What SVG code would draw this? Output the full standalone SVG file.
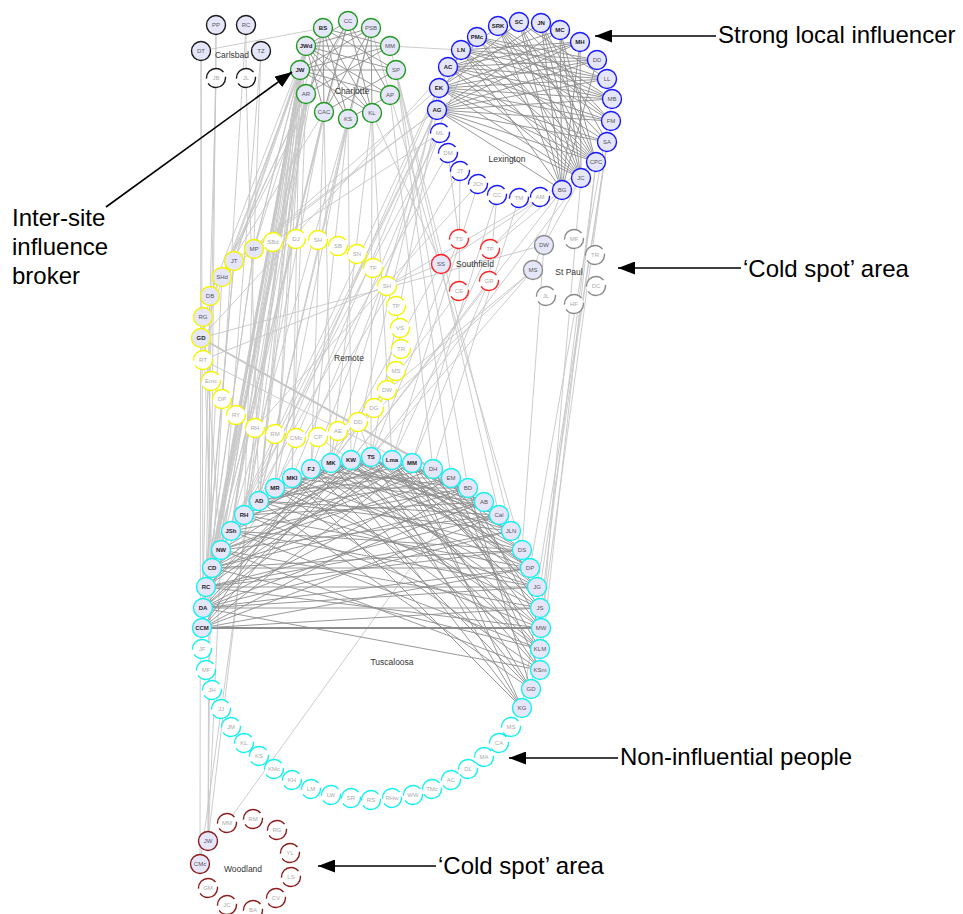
<svg xmlns="http://www.w3.org/2000/svg" width="963" height="914" viewBox="0 0 963 914">
<style>
circle{stroke-width:1.4}
.f{fill:#e6e6fa}
.d{fill:#fff;stroke-dasharray:24 5}
text{font-family:"Liberation Sans",Arial,sans-serif}
.b{font-size:6px;font-weight:bold;fill:#222;text-anchor:middle}
.m{font-size:6px;fill:#555;text-anchor:middle}
.g{font-size:6px;fill:#aaa;text-anchor:middle}
.site{font-size:8.5px;fill:#333;text-anchor:middle}
.ann{font-size:24px;fill:#000}
.cb circle{stroke:#1a1a1a}
.ch circle{stroke:#1f9a1f}
.lx circle{stroke:#1818ff}
.sf circle{stroke:#ff2020}
.sp circle{stroke:#8a8a8a}
.re circle{stroke:#f4f400}
.tu circle{stroke:#14f0f0}
.wo circle{stroke:#8c1c1c}
#connectors path{fill:none}
.e1 path{stroke:#c6c6c6;stroke-width:0.9}
.e2 path{stroke:#8c8c8c;stroke-width:0.9}
.thick{stroke-width:1.8!important}
.arr{stroke:#000;stroke-width:1.6;fill:none}
</style>
<defs>
<marker id="ah" markerWidth="17" markerHeight="13" refX="17" refY="6.5" orient="auto" markerUnits="userSpaceOnUse"><path d="M0 0L17 6.5L0 13z" fill="#000"/></marker>
</defs>
<rect width="963" height="914" fill="#fff"/>
<g id="connectors">
<g class="e1">
<path d="M201 51L323 28"/><path d="M201 51L203 608"/><path d="M201 51L200 864"/><path d="M216 25L216 78"/><path d="M216 25L208 841"/><path d="M246 25L246 78"/><path d="M246 25L212 568"/><path d="M261 51L244 515"/><path d="M261 51L221 550"/><path d="M216 78L210 296"/><path d="M216 78L206 587"/><path d="M246 78L259 501"/>
<path d="M300 70L244 515"/><path d="M300 70L259 501"/><path d="M300 70L231 531"/><path d="M300 70L221 550"/><path d="M300 70L212 568"/><path d="M300 70L206 587"/><path d="M300 70L203 608"/><path d="M300 70L202 628"/><path d="M300 70L275 488"/><path d="M300 70L292 478"/><path d="M300 70L254 249"/><path d="M300 70L234 261"/><path d="M300 70L222 277"/><path d="M300 70L201 338"/><path d="M300 70L208 841"/>
<path d="M306 46L244 515"/><path d="M306 46L259 501"/><path d="M306 46L221 550"/><path d="M306 46L212 568"/><path d="M306 46L203 608"/><path d="M306 46L275 488"/><path d="M306 46L254 249"/><path d="M306 46L234 261"/><path d="M306 46L231 531"/><path d="M306 46L210 296"/>
<path d="M306 94L231 531"/><path d="M306 94L206 587"/><path d="M306 94L212 568"/><path d="M306 94L259 501"/><path d="M306 94L222 277"/><path d="M306 94L203 317"/><path d="M306 94L292 478"/><path d="M306 94L200 864"/>
<path d="M324 112L221 550"/><path d="M324 112L244 515"/><path d="M324 112L203 608"/><path d="M324 112L311 469"/><path d="M324 112L210 296"/><path d="M324 112L331 463"/>
<path d="M348 119L202 628"/><path d="M348 119L259 501"/><path d="M348 119L275 488"/><path d="M348 119L351 460"/><path d="M348 119L311 469"/>
<path d="M323 28L206 587"/><path d="M323 28L231 531"/><path d="M323 28L254 249"/><path d="M323 28L212 568"/>
<path d="M372 113L371 457"/><path d="M372 113L331 463"/><path d="M372 113L441 264"/><path d="M372 113L392 460"/>
<path d="M390 95L433 469"/><path d="M371 28L259 501"/><path d="M371 28L522 550"/><path d="M390 46L499 515"/><path d="M390 46L461 50"/>
<path d="M396 70L451 478"/><path d="M396 70L511 531"/><path d="M396 70L468 488"/><path d="M348 21L212 568"/><path d="M348 21L222 277"/>
<path d="M437 110L371 457"/><path d="M437 110L254 249"/><path d="M437 110L231 531"/><path d="M437 110L244 515"/><path d="M437 110L234 261"/>
<path d="M439 88L351 460"/><path d="M439 88L259 501"/><path d="M439 88L222 277"/><path d="M448 67L331 463"/><path d="M448 67L221 550"/>
<path d="M461 50L275 488"/><path d="M477 37L292 478"/><path d="M477 37L201 338"/>
<path d="M440 133L212 568"/><path d="M440 133L273 242"/><path d="M440 133L311 469"/><path d="M448 153L459 239"/><path d="M448 153L206 587"/>
<path d="M460 171L459 291"/><path d="M460 171L203 608"/><path d="M478 184L392 460"/><path d="M478 184L255 428"/><path d="M497 195L489 281"/><path d="M497 195L412 463"/>
<path d="M519 198L433 469"/><path d="M540 197L490 249"/><path d="M540 197L387 286"/><path d="M562 190L490 249"/><path d="M562 190L533 270"/><path d="M562 190L351 460"/>
<path d="M581 178L540 649"/><path d="M581 178L544 245"/><path d="M581 178L371 457"/><path d="M596 162L540 670"/><path d="M596 162L531 689"/><path d="M596 162L441 264"/>
<path d="M607 142L522 708"/><path d="M607 142L541 628"/><path d="M611 121L537 587"/><path d="M612 99L530 568"/>
<path d="M441 264L203 360"/><path d="M441 264L331 463"/><path d="M459 239L371 457"/><path d="M490 249L392 460"/><path d="M489 281L412 463"/><path d="M489 281L351 460"/><path d="M459 291L331 463"/>
<path d="M544 245L201 338"/><path d="M544 245L522 550"/><path d="M533 270L371 457"/><path d="M533 270L311 469"/>
<path class="thick" d="M201 338L433 469"/><path d="M201 338L451 478"/><path d="M201 338L468 488"/><path d="M203 360L484 502"/><path d="M203 317L212 568"/><path d="M203 317L221 550"/>
<path d="M254 249L203 608"/><path d="M254 249L206 587"/><path d="M234 261L202 628"/><path d="M234 261L203 608"/><path d="M222 277L206 587"/><path d="M210 296L202 628"/><path d="M210 296L208 841"/>
<path d="M358 422L371 457"/><path d="M374 408L331 463"/><path d="M318 437L351 460"/><path d="M338 431L533 270"/>
<path d="M208 841L221 550"/><path d="M227 823L468 488"/>
</g>
<g class="e2">
<path d="M437 110L580 42"/><path d="M437 110L560 30"/><path d="M437 110L597 60"/><path d="M437 110L607 79"/><path d="M437 110L612 99"/><path d="M437 110L611 121"/><path d="M437 110L596 162"/><path d="M437 110L581 178"/><path d="M437 110L562 190"/><path d="M437 110L607 142"/>
<path d="M439 88L580 42"/><path d="M439 88L597 60"/><path d="M439 88L607 79"/><path d="M439 88L612 99"/><path d="M439 88L611 121"/><path d="M439 88L607 142"/><path d="M439 88L596 162"/><path d="M439 88L581 178"/><path d="M439 88L519 22"/><path d="M439 88L541 23"/>
<path d="M448 67L580 42"/><path d="M448 67L560 30"/><path d="M448 67L597 60"/><path d="M448 67L607 79"/><path d="M448 67L612 99"/><path d="M448 67L611 121"/><path d="M448 67L596 162"/><path d="M448 67L581 178"/><path d="M448 67L498 26"/>
<path d="M461 50L580 42"/><path d="M461 50L597 60"/><path d="M461 50L607 79"/><path d="M461 50L612 99"/><path d="M461 50L596 162"/><path d="M461 50L581 178"/><path d="M461 50L562 190"/><path d="M461 50L607 142"/>
<path d="M477 37L607 79"/><path d="M477 37L612 99"/><path d="M477 37L611 121"/><path d="M477 37L581 178"/><path d="M477 37L596 162"/><path d="M477 37L597 60"/>
<path d="M498 26L612 99"/><path d="M498 26L611 121"/><path d="M498 26L596 162"/><path d="M498 26L562 190"/><path d="M498 26L581 178"/><path d="M498 26L607 142"/>
<path d="M519 22L596 162"/><path d="M519 22L581 178"/><path d="M519 22L562 190"/><path d="M519 22L611 121"/><path d="M519 22L607 79"/>
<path d="M541 23L562 190"/><path d="M541 23L581 178"/><path d="M541 23L607 142"/><path d="M541 23L596 162"/><path d="M560 30L562 190"/><path d="M560 30L581 178"/><path d="M560 30L596 162"/><path d="M580 42L562 190"/><path d="M580 42L581 178"/><path d="M597 60L562 190"/>
<path d="M323 28L390 46"/><path d="M323 28L396 70"/><path d="M323 28L372 113"/><path d="M323 28L324 112"/><path d="M323 28L348 119"/>
<path d="M348 21L306 46"/><path d="M348 21L306 94"/><path d="M348 21L372 113"/><path d="M348 21L390 95"/><path d="M348 21L324 112"/>
<path d="M371 28L306 46"/><path d="M371 28L300 70"/><path d="M371 28L324 112"/><path d="M371 28L348 119"/>
<path d="M390 46L306 46"/><path d="M390 46L300 70"/><path d="M390 46L306 94"/><path d="M396 70L306 46"/><path d="M396 70L300 70"/><path d="M396 70L324 112"/>
<path d="M390 95L300 70"/><path d="M390 95L306 46"/><path d="M390 95L348 119"/><path d="M372 113L306 46"/><path d="M372 113L371 28"/><path d="M306 46L348 119"/><path d="M306 46L324 112"/><path d="M300 70L372 113"/>
<path d="M203 608L451 478"/><path d="M203 608L484 502"/><path d="M203 608L511 531"/><path d="M203 608L530 568"/><path d="M203 608L537 587"/><path d="M203 608L540 608"/><path d="M203 608L540 670"/><path d="M203 608L331 463"/><path d="M203 608L371 457"/><path d="M203 608L392 460"/>
<path class="thick" d="M202 628L541 628"/><path d="M202 628L540 608"/><path d="M202 628L530 568"/><path d="M202 628L499 515"/><path d="M202 628L468 488"/><path d="M202 628L351 460"/><path d="M202 628L412 463"/><path d="M202 628L311 469"/>
<path d="M206 587L499 515"/><path d="M206 587L511 531"/><path d="M206 587L522 550"/><path d="M206 587L537 587"/><path d="M206 587L541 628"/><path d="M206 587L331 463"/><path d="M206 587L351 460"/><path d="M206 587L392 460"/>
<path d="M212 568L484 502"/><path d="M212 568L522 550"/><path d="M212 568L530 568"/><path d="M212 568L540 649"/><path d="M212 568L371 457"/><path d="M212 568L412 463"/><path d="M212 568L468 488"/>
<path d="M221 550L451 478"/><path d="M221 550L499 515"/><path d="M221 550L540 608"/><path d="M221 550L540 670"/><path d="M221 550L433 469"/><path d="M221 550L371 457"/>
<path d="M231 531L468 488"/><path d="M231 531L522 550"/><path d="M231 531L537 587"/><path d="M231 531L540 649"/><path d="M231 531L331 463"/><path d="M231 531L392 460"/>
<path d="M244 515L451 478"/><path d="M244 515L484 502"/><path d="M244 515L530 568"/><path d="M244 515L541 628"/><path d="M244 515L351 460"/><path d="M244 515L371 457"/>
<path d="M259 501L433 469"/><path d="M259 501L499 515"/><path d="M259 501L511 531"/><path d="M259 501L537 587"/><path d="M259 501L531 689"/><path d="M259 501L412 463"/>
<path d="M275 488L468 488"/><path d="M275 488L522 550"/><path d="M275 488L540 608"/><path d="M275 488L540 670"/><path d="M275 488L371 457"/>
<path d="M292 478L451 478"/><path d="M292 478L484 502"/><path d="M292 478L530 568"/><path d="M292 478L540 649"/><path d="M292 478L522 708"/>
<path d="M311 469L468 488"/><path d="M311 469L511 531"/><path d="M311 469L537 587"/><path d="M311 469L541 628"/><path d="M311 469L531 689"/>
<path d="M331 463L484 502"/><path d="M331 463L522 550"/><path d="M331 463L540 608"/><path d="M331 463L540 649"/><path d="M331 463L522 708"/><path d="M331 463L499 515"/>
<path d="M351 460L499 515"/><path d="M351 460L530 568"/><path d="M351 460L541 628"/><path d="M351 460L540 670"/><path d="M351 460L531 689"/><path d="M351 460L511 531"/>
<path d="M371 457L511 531"/><path d="M371 457L537 587"/><path d="M371 457L540 649"/><path d="M371 457L522 708"/><path d="M371 457L522 550"/><path d="M371 457L530 568"/>
<path d="M392 460L484 502"/><path d="M392 460L530 568"/><path d="M392 460L540 608"/><path d="M392 460L531 689"/><path d="M392 460L540 670"/>
<path d="M412 463L511 531"/><path d="M412 463L537 587"/><path d="M412 463L541 628"/><path d="M412 463L522 708"/><path d="M412 463L522 550"/>
<path d="M433 469L540 649"/><path d="M433 469L499 515"/><path d="M451 478L540 670"/><path d="M451 478L540 608"/><path d="M468 488L531 689"/><path d="M468 488L541 628"/>
</g>
</g>
<g id="carlsbad" class="cb">
<g id="cb-PP"><circle class="f" cx="216" cy="25" r="9.5"/><text class="m" x="216" y="27">PP</text></g>
<g id="cb-RC"><circle class="f" cx="246" cy="25" r="9.5"/><text class="m" x="246" y="27">RC</text></g>
<g id="cb-DT"><circle class="f" cx="201" cy="51" r="9.5"/><text class="m" x="201" y="53">DT</text></g>
<g id="cb-TZ"><circle class="f" cx="261" cy="51" r="9.5"/><text class="m" x="261" y="53">TZ</text></g>
<g id="cb-JB"><circle class="d" cx="216" cy="78" r="9.5"/><text class="g" x="216" y="80">JB</text></g>
<g id="cb-JL"><circle class="d" cx="246" cy="78" r="9.5"/><text class="g" x="246" y="80">JL</text></g>
<text class="site" x="232" y="58">Carlsbad</text>
</g>
<g id="charlotte" class="ch">
<g id="ch-BS"><circle class="f" cx="323" cy="28" r="9.5"/><text class="b" x="323" y="30">BS</text></g>
<g id="ch-CC"><circle class="f" cx="348" cy="21" r="9.5"/><text class="m" x="348" y="23">CC</text></g>
<g id="ch-PSB"><circle class="f" cx="371" cy="28" r="9.5"/><text class="m" x="371" y="30">PSB</text></g>
<g id="ch-MM"><circle class="f" cx="390" cy="46" r="9.5"/><text class="m" x="390" y="48">MM</text></g>
<g id="ch-SP"><circle class="f" cx="396" cy="70" r="9.5"/><text class="m" x="396" y="72">SP</text></g>
<g id="ch-AP"><circle class="f" cx="390" cy="95" r="9.5"/><text class="m" x="390" y="97">AP</text></g>
<g id="ch-KL"><circle class="f" cx="372" cy="113" r="9.5"/><text class="m" x="372" y="115">KL</text></g>
<g id="ch-KS"><circle class="f" cx="348" cy="119" r="9.5"/><text class="m" x="348" y="121">KS</text></g>
<g id="ch-CAC"><circle class="f" cx="324" cy="112" r="9.5"/><text class="m" x="324" y="114">CAC</text></g>
<g id="ch-AR"><circle class="f" cx="306" cy="94" r="9.5"/><text class="m" x="306" y="96">AR</text></g>
<g id="ch-JW"><circle class="f" cx="300" cy="70" r="9.5"/><text class="b" x="300" y="72">JW</text></g>
<g id="ch-JWd"><circle class="f" cx="306" cy="46" r="9.5"/><text class="b" x="306" y="48">JWd</text></g>
<text class="site" x="352" y="94">Charlotte</text>
</g>
<g id="lexington" class="lx">
<g id="lx-SRK"><circle class="f" cx="498" cy="26" r="9.5"/><text class="b" x="498" y="28">SRK</text></g>
<g id="lx-SC"><circle class="f" cx="519" cy="22" r="9.5"/><text class="b" x="519" y="24">SC</text></g>
<g id="lx-JN"><circle class="f" cx="541" cy="23" r="9.5"/><text class="b" x="541" y="25">JN</text></g>
<g id="lx-MC"><circle class="f" cx="560" cy="30" r="9.5"/><text class="b" x="560" y="32">MC</text></g>
<g id="lx-MH"><circle class="f" cx="580" cy="42" r="9.5"/><text class="b" x="580" y="44">MH</text></g>
<g id="lx-DD"><circle class="f" cx="597" cy="60" r="9.5"/><text class="m" x="597" y="62">DD</text></g>
<g id="lx-LL"><circle class="f" cx="607" cy="79" r="9.5"/><text class="m" x="607" y="81">LL</text></g>
<g id="lx-MB"><circle class="f" cx="612" cy="99" r="9.5"/><text class="m" x="612" y="101">MB</text></g>
<g id="lx-FM"><circle class="f" cx="611" cy="121" r="9.5"/><text class="m" x="611" y="123">FM</text></g>
<g id="lx-SA"><circle class="f" cx="607" cy="142" r="9.5"/><text class="m" x="607" y="144">SA</text></g>
<g id="lx-CPC"><circle class="f" cx="596" cy="162" r="9.5"/><text class="m" x="596" y="164">CPC</text></g>
<g id="lx-JC"><circle class="f" cx="581" cy="178" r="9.5"/><text class="m" x="581" y="180">JC</text></g>
<g id="lx-BG"><circle class="f" cx="562" cy="190" r="9.5"/><text class="m" x="562" y="192">BG</text></g>
<g id="lx-AM"><circle class="d" cx="540" cy="197" r="9.5"/><text class="g" x="540" y="199">AM</text></g>
<g id="lx-TM"><circle class="d" cx="519" cy="198" r="9.5"/><text class="g" x="519" y="200">TM</text></g>
<g id="lx-CC"><circle class="d" cx="497" cy="195" r="9.5"/><text class="g" x="497" y="197">CC</text></g>
<g id="lx-JCh"><circle class="d" cx="478" cy="184" r="9.5"/><text class="g" x="478" y="186">JCh</text></g>
<g id="lx-JT"><circle class="d" cx="460" cy="171" r="9.5"/><text class="g" x="460" y="173">JT</text></g>
<g id="lx-DM"><circle class="d" cx="448" cy="153" r="9.5"/><text class="g" x="448" y="155">DM</text></g>
<g id="lx-ML"><circle class="d" cx="440" cy="133" r="9.5"/><text class="g" x="440" y="135">ML</text></g>
<g id="lx-AG"><circle class="f" cx="437" cy="110" r="9.5"/><text class="b" x="437" y="112">AG</text></g>
<g id="lx-EK"><circle class="f" cx="439" cy="88" r="9.5"/><text class="b" x="439" y="90">EK</text></g>
<g id="lx-AC"><circle class="f" cx="448" cy="67" r="9.5"/><text class="b" x="448" y="69">AC</text></g>
<g id="lx-LN"><circle class="f" cx="461" cy="50" r="9.5"/><text class="b" x="461" y="52">LN</text></g>
<g id="lx-PMc"><circle class="f" cx="477" cy="37" r="9.5"/><text class="b" x="477" y="39">PMc</text></g>
<text class="site" x="507" y="162">Lexington</text>
</g>
<g id="southfield" class="sf">
<g id="sf-TS"><circle class="d" cx="459" cy="239" r="9.5"/><text class="g" x="459" y="241">TS</text></g>
<g id="sf-TP"><circle class="d" cx="490" cy="249" r="9.5"/><text class="g" x="490" y="251">TP</text></g>
<g id="sf-SS"><circle class="f" cx="441" cy="264" r="9.5"/><text class="m" x="441" y="266">SS</text></g>
<g id="sf-GR"><circle class="d" cx="489" cy="281" r="9.5"/><text class="g" x="489" y="283">GR</text></g>
<g id="sf-CE"><circle class="d" cx="459" cy="291" r="9.5"/><text class="g" x="459" y="293">CE</text></g>
<text class="site" x="475" y="267">Southfield</text>
</g>
<g id="stpaul" class="sp">
<g id="sp-DW"><circle class="f" cx="544" cy="245" r="9.5"/><text class="m" x="544" y="247">DW</text></g>
<g id="sp-MF"><circle class="d" cx="574" cy="239" r="9.5"/><text class="g" x="574" y="241">MF</text></g>
<g id="sp-TR"><circle class="d" cx="595" cy="255" r="9.5"/><text class="g" x="595" y="257">TR</text></g>
<g id="sp-MS"><circle class="f" cx="533" cy="270" r="9.5"/><text class="m" x="533" y="272">MS</text></g>
<g id="sp-DC"><circle class="d" cx="596" cy="286" r="9.5"/><text class="g" x="596" y="288">DC</text></g>
<g id="sp-JL"><circle class="d" cx="546" cy="296" r="9.5"/><text class="g" x="546" y="298">JL</text></g>
<g id="sp-HF"><circle class="d" cx="574" cy="304" r="9.5"/><text class="g" x="574" y="306">HF</text></g>
<text class="site" x="569" y="275">St Paul</text>
</g>
<g id="remote" class="re">
<g id="re-SBd"><circle class="d" cx="273" cy="242" r="9.5"/><text class="g" x="273" y="244">SBd</text></g>
<g id="re-DJ"><circle class="d" cx="296" cy="239" r="9.5"/><text class="g" x="296" y="241">DJ</text></g>
<g id="re-SH"><circle class="d" cx="318" cy="240" r="9.5"/><text class="g" x="318" y="242">SH</text></g>
<g id="re-SB"><circle class="d" cx="338" cy="246" r="9.5"/><text class="g" x="338" y="248">SB</text></g>
<g id="re-SN"><circle class="d" cx="357" cy="254" r="9.5"/><text class="g" x="357" y="256">SN</text></g>
<g id="re-TF"><circle class="d" cx="373" cy="268" r="9.5"/><text class="g" x="373" y="270">TF</text></g>
<g id="re-SH2"><circle class="d" cx="387" cy="286" r="9.5"/><text class="g" x="387" y="288">SH</text></g>
<g id="re-TP"><circle class="d" cx="396" cy="306" r="9.5"/><text class="g" x="396" y="308">TP</text></g>
<g id="re-VS"><circle class="d" cx="400" cy="328" r="9.5"/><text class="g" x="400" y="330">VS</text></g>
<g id="re-TR"><circle class="d" cx="401" cy="349" r="9.5"/><text class="g" x="401" y="351">TR</text></g>
<g id="re-MS"><circle class="d" cx="396" cy="371" r="9.5"/><text class="g" x="396" y="373">MS</text></g>
<g id="re-DW"><circle class="d" cx="387" cy="390" r="9.5"/><text class="g" x="387" y="392">DW</text></g>
<g id="re-DG"><circle class="d" cx="374" cy="408" r="9.5"/><text class="g" x="374" y="410">DG</text></g>
<g id="re-DD"><circle class="d" cx="358" cy="422" r="9.5"/><text class="g" x="358" y="424">DD</text></g>
<g id="re-AE"><circle class="d" cx="338" cy="431" r="9.5"/><text class="g" x="338" y="433">AE</text></g>
<g id="re-CP"><circle class="d" cx="318" cy="437" r="9.5"/><text class="g" x="318" y="439">CP</text></g>
<g id="re-CMc"><circle class="d" cx="296" cy="438" r="9.5"/><text class="g" x="296" y="440">CMc</text></g>
<g id="re-RM"><circle class="d" cx="275" cy="434" r="9.5"/><text class="g" x="275" y="436">RM</text></g>
<g id="re-RH"><circle class="d" cx="255" cy="428" r="9.5"/><text class="g" x="255" y="430">RH</text></g>
<g id="re-RY"><circle class="d" cx="236" cy="415" r="9.5"/><text class="g" x="236" y="417">RY</text></g>
<g id="re-DP"><circle class="d" cx="222" cy="399" r="9.5"/><text class="g" x="222" y="401">DP</text></g>
<g id="re-Emc"><circle class="d" cx="211" cy="381" r="9.5"/><text class="g" x="211" y="383">Emc</text></g>
<g id="re-RT"><circle class="d" cx="203" cy="360" r="9.5"/><text class="g" x="203" y="362">RT</text></g>
<g id="re-GD"><circle class="f" cx="201" cy="338" r="9.5"/><text class="b" x="201" y="340">GD</text></g>
<g id="re-RG"><circle class="f" cx="203" cy="317" r="9.5"/><text class="m" x="203" y="319">RG</text></g>
<g id="re-DB"><circle class="f" cx="210" cy="296" r="9.5"/><text class="m" x="210" y="298">DB</text></g>
<g id="re-SHd"><circle class="f" cx="222" cy="277" r="9.5"/><text class="m" x="222" y="279">SHd</text></g>
<g id="re-JT"><circle class="f" cx="234" cy="261" r="9.5"/><text class="m" x="234" y="263">JT</text></g>
<g id="re-MP"><circle class="f" cx="254" cy="249" r="9.5"/><text class="m" x="254" y="251">MP</text></g>
<text class="site" x="349" y="361">Remote</text>
</g>
<g id="tuscaloosa" class="tu">
<g id="tu-KW"><circle class="f" cx="351" cy="460" r="9.5"/><text class="b" x="351" y="462">KW</text></g>
<g id="tu-TS"><circle class="f" cx="371" cy="457" r="9.5"/><text class="b" x="371" y="459">TS</text></g>
<g id="tu-Lma"><circle class="f" cx="392" cy="460" r="9.5"/><text class="b" x="392" y="462">Lma</text></g>
<g id="tu-MM"><circle class="f" cx="412" cy="463" r="9.5"/><text class="b" x="412" y="465">MM</text></g>
<g id="tu-DH"><circle class="f" cx="433" cy="469" r="9.5"/><text class="m" x="433" y="471">DH</text></g>
<g id="tu-EM"><circle class="f" cx="451" cy="478" r="9.5"/><text class="m" x="451" y="480">EM</text></g>
<g id="tu-BD"><circle class="f" cx="468" cy="488" r="9.5"/><text class="m" x="468" y="490">BD</text></g>
<g id="tu-AB"><circle class="f" cx="484" cy="502" r="9.5"/><text class="m" x="484" y="504">AB</text></g>
<g id="tu-Cal"><circle class="f" cx="499" cy="515" r="9.5"/><text class="m" x="499" y="517">Cal</text></g>
<g id="tu-JLN"><circle class="f" cx="511" cy="531" r="9.5"/><text class="m" x="511" y="533">JLN</text></g>
<g id="tu-DS"><circle class="f" cx="522" cy="550" r="9.5"/><text class="m" x="522" y="552">DS</text></g>
<g id="tu-DP"><circle class="f" cx="530" cy="568" r="9.5"/><text class="m" x="530" y="570">DP</text></g>
<g id="tu-JG"><circle class="f" cx="537" cy="587" r="9.5"/><text class="m" x="537" y="589">JG</text></g>
<g id="tu-JS"><circle class="f" cx="540" cy="608" r="9.5"/><text class="m" x="540" y="610">JS</text></g>
<g id="tu-MW"><circle class="f" cx="541" cy="628" r="9.5"/><text class="m" x="541" y="630">MW</text></g>
<g id="tu-KLM"><circle class="f" cx="540" cy="649" r="9.5"/><text class="m" x="540" y="651">KLM</text></g>
<g id="tu-KSm"><circle class="f" cx="540" cy="670" r="9.5"/><text class="m" x="540" y="672">KSm</text></g>
<g id="tu-GD"><circle class="f" cx="531" cy="689" r="9.5"/><text class="m" x="531" y="691">GD</text></g>
<g id="tu-KG"><circle class="f" cx="522" cy="708" r="9.5"/><text class="m" x="522" y="710">KG</text></g>
<g id="tu-MS"><circle class="d" cx="511" cy="727" r="9.5"/><text class="g" x="511" y="729">MS</text></g>
<g id="tu-CA"><circle class="d" cx="499" cy="743" r="9.5"/><text class="g" x="499" y="745">CA</text></g>
<g id="tu-MA"><circle class="d" cx="484" cy="757" r="9.5"/><text class="g" x="484" y="759">MA</text></g>
<g id="tu-DL"><circle class="d" cx="468" cy="769" r="9.5"/><text class="g" x="468" y="771">DL</text></g>
<g id="tu-AC"><circle class="d" cx="451" cy="780" r="9.5"/><text class="g" x="451" y="782">AC</text></g>
<g id="tu-TMc"><circle class="d" cx="432" cy="789" r="9.5"/><text class="g" x="432" y="791">TMc</text></g>
<g id="tu-WW"><circle class="d" cx="413" cy="795" r="9.5"/><text class="g" x="413" y="797">WW</text></g>
<g id="tu-RHw"><circle class="d" cx="392" cy="798" r="9.5"/><text class="g" x="392" y="800">RHw</text></g>
<g id="tu-RS"><circle class="d" cx="371" cy="800" r="9.5"/><text class="g" x="371" y="802">RS</text></g>
<g id="tu-SR"><circle class="d" cx="351" cy="798" r="9.5"/><text class="g" x="351" y="800">SR</text></g>
<g id="tu-LW"><circle class="d" cx="331" cy="795" r="9.5"/><text class="g" x="331" y="797">LW</text></g>
<g id="tu-LM"><circle class="d" cx="311" cy="789" r="9.5"/><text class="g" x="311" y="791">LM</text></g>
<g id="tu-KH"><circle class="d" cx="292" cy="780" r="9.5"/><text class="g" x="292" y="782">KH</text></g>
<g id="tu-KMc"><circle class="d" cx="274" cy="769" r="9.5"/><text class="g" x="274" y="771">KMc</text></g>
<g id="tu-KS"><circle class="d" cx="259" cy="756" r="9.5"/><text class="g" x="259" y="758">KS</text></g>
<g id="tu-KL"><circle class="d" cx="244" cy="743" r="9.5"/><text class="g" x="244" y="745">KL</text></g>
<g id="tu-JM"><circle class="d" cx="231" cy="727" r="9.5"/><text class="g" x="231" y="729">JM</text></g>
<g id="tu-JJ"><circle class="d" cx="221" cy="709" r="9.5"/><text class="g" x="221" y="711">JJ</text></g>
<g id="tu-JH"><circle class="d" cx="212" cy="690" r="9.5"/><text class="g" x="212" y="692">JH</text></g>
<g id="tu-MF"><circle class="d" cx="206" cy="670" r="9.5"/><text class="g" x="206" y="672">MF</text></g>
<g id="tu-JF"><circle class="d" cx="202" cy="649" r="9.5"/><text class="g" x="202" y="651">JF</text></g>
<g id="tu-CCM"><circle class="f" cx="202" cy="628" r="9.5"/><text class="b" x="202" y="630">CCM</text></g>
<g id="tu-DA"><circle class="f" cx="203" cy="608" r="9.5"/><text class="b" x="203" y="610">DA</text></g>
<g id="tu-RC"><circle class="f" cx="206" cy="587" r="9.5"/><text class="b" x="206" y="589">RC</text></g>
<g id="tu-CD"><circle class="f" cx="212" cy="568" r="9.5"/><text class="b" x="212" y="570">CD</text></g>
<g id="tu-NW"><circle class="f" cx="221" cy="550" r="9.5"/><text class="b" x="221" y="552">NW</text></g>
<g id="tu-JSh"><circle class="f" cx="231" cy="531" r="9.5"/><text class="b" x="231" y="533">JSh</text></g>
<g id="tu-RH"><circle class="f" cx="244" cy="515" r="9.5"/><text class="b" x="244" y="517">RH</text></g>
<g id="tu-AD"><circle class="f" cx="259" cy="501" r="9.5"/><text class="b" x="259" y="503">AD</text></g>
<g id="tu-MR"><circle class="f" cx="275" cy="488" r="9.5"/><text class="b" x="275" y="490">MR</text></g>
<g id="tu-MKl"><circle class="f" cx="292" cy="478" r="9.5"/><text class="b" x="292" y="480">MKl</text></g>
<g id="tu-FJ"><circle class="f" cx="311" cy="469" r="9.5"/><text class="b" x="311" y="471">FJ</text></g>
<g id="tu-MK"><circle class="f" cx="331" cy="463" r="9.5"/><text class="b" x="331" y="465">MK</text></g>
<text class="site" x="392" y="665">Tuscaloosa</text>
</g>
<g id="woodland" class="wo">
<g id="wo-MM"><circle class="d" cx="227" cy="823" r="9.5"/><text class="g" x="227" y="825">MM</text></g>
<g id="wo-RM"><circle class="d" cx="253" cy="819" r="9.5"/><text class="g" x="253" y="821">RM</text></g>
<g id="wo-RG"><circle class="d" cx="277" cy="830" r="9.5"/><text class="g" x="277" y="832">RG</text></g>
<g id="wo-YL"><circle class="d" cx="290" cy="853" r="9.5"/><text class="g" x="290" y="855">YL</text></g>
<g id="wo-LS"><circle class="d" cx="291" cy="877" r="9.5"/><text class="g" x="291" y="879">LS</text></g>
<g id="wo-CV"><circle class="d" cx="276" cy="898" r="9.5"/><text class="g" x="276" y="900">CV</text></g>
<g id="wo-BA"><circle class="d" cx="253" cy="910" r="9.5"/><text class="g" x="253" y="912">BA</text></g>
<g id="wo-JC"><circle class="d" cx="227" cy="905" r="9.5"/><text class="g" x="227" y="907">JC</text></g>
<g id="wo-GM"><circle class="d" cx="208" cy="888" r="9.5"/><text class="g" x="208" y="890">GM</text></g>
<g id="wo-CMc"><circle class="f" cx="200" cy="864" r="9.5"/><text class="m" x="200" y="866">CMc</text></g>
<g id="wo-JW"><circle class="f" cx="208" cy="841" r="9.5"/><text class="m" x="208" y="843">JW</text></g>
<text class="site" x="243" y="872">Woodland</text>
</g>
<g id="annotations">
<line class="arr" x1="716" y1="36" x2="595" y2="36" marker-end="url(#ah)"/>
<text class="ann" x="718" y="43">Strong local influencer</text>
<line class="arr" x1="106" y1="207" x2="292" y2="72" marker-end="url(#ah)"/>
<text class="ann" x="12" y="226">Inter-site</text>
<text class="ann" x="12" y="255">influence</text>
<text class="ann" x="12" y="284">broker</text>
<line class="arr" x1="741" y1="268" x2="618" y2="268" marker-end="url(#ah)"/>
<text class="ann" x="743" y="277">‘Cold spot’ area</text>
<line class="arr" x1="618" y1="758" x2="509" y2="758" marker-end="url(#ah)"/>
<text class="ann" x="620" y="765">Non-influential people</text>
<line class="arr" x1="436" y1="866" x2="318" y2="866" marker-end="url(#ah)"/>
<text class="ann" x="438" y="874">‘Cold spot’ area</text>
</g>
</svg>
